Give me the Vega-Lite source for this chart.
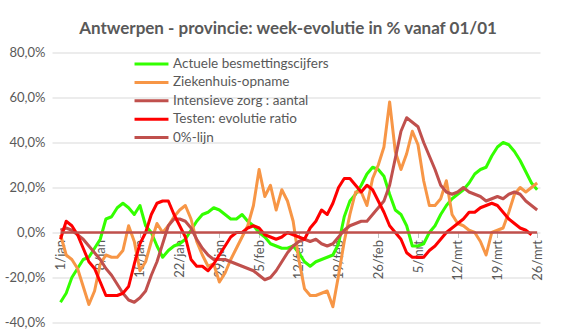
{
  "$schema": "https://vega.github.io/schema/vega-lite/v6.json",
  "width": 488,
  "height": 270,
  "autosize": {"type": "none"},
  "padding": {"left": 52, "top": 52.5, "right": 37, "bottom": 11.5},
  "background": "white",
  "title": {"text": "Antwerpen - provincie: week-evolutie in % vanaf 01/01", "font": "Lato", "fontSize": 17, "fontWeight": "bold", "color": "#595959", "anchor": "middle", "dx": -8, "offset": 9},
  "data": {"values": [
    {"datum": "2021-01-01", "besmet": -31, "opname": -1, "iz": 1, "test": -3, "nul": 0},
    {"datum": "2021-01-02", "besmet": -27, "opname": -10, "iz": 2, "test": 5, "nul": 0},
    {"datum": "2021-01-03", "besmet": -20, "opname": -12, "iz": 1, "test": 3, "nul": 0},
    {"datum": "2021-01-04", "besmet": -16, "opname": -16, "iz": -1, "test": -1, "nul": 0},
    {"datum": "2021-01-05", "besmet": -12, "opname": -24, "iz": -3, "test": -7, "nul": 0},
    {"datum": "2021-01-06", "besmet": -11, "opname": -32, "iz": -6, "test": -13, "nul": 0},
    {"datum": "2021-01-07", "besmet": -7, "opname": -26, "iz": -9, "test": -16, "nul": 0},
    {"datum": "2021-01-08", "besmet": -3, "opname": -14, "iz": -12, "test": -22, "nul": 0},
    {"datum": "2021-01-09", "besmet": 6, "opname": -10, "iz": -16, "test": -28, "nul": 0},
    {"datum": "2021-01-10", "besmet": 7, "opname": -11, "iz": -19, "test": -28, "nul": 0},
    {"datum": "2021-01-11", "besmet": 11, "opname": -11, "iz": -23, "test": -28, "nul": 0},
    {"datum": "2021-01-12", "besmet": 13, "opname": -8, "iz": -27, "test": -27, "nul": 0},
    {"datum": "2021-01-13", "besmet": 11, "opname": 3, "iz": -30, "test": -24, "nul": 0},
    {"datum": "2021-01-14", "besmet": 8, "opname": -4, "iz": -31, "test": -14, "nul": 0},
    {"datum": "2021-01-15", "besmet": 12, "opname": -17, "iz": -29, "test": -5, "nul": 0},
    {"datum": "2021-01-16", "besmet": 3, "opname": -13, "iz": -26, "test": 0, "nul": 0},
    {"datum": "2021-01-17", "besmet": 0, "opname": -4, "iz": -19, "test": 8, "nul": 0},
    {"datum": "2021-01-18", "besmet": -6, "opname": 4, "iz": -13, "test": 13, "nul": 0},
    {"datum": "2021-01-19", "besmet": -11, "opname": 0, "iz": -5, "test": 14, "nul": 0},
    {"datum": "2021-01-20", "besmet": -8, "opname": 3, "iz": 3, "test": 14, "nul": 0},
    {"datum": "2021-01-21", "besmet": -6, "opname": 7, "iz": 6, "test": 8, "nul": 0},
    {"datum": "2021-01-22", "besmet": -5, "opname": 10, "iz": 6, "test": 3, "nul": 0},
    {"datum": "2021-01-23", "besmet": -3, "opname": 12, "iz": 5, "test": -2, "nul": 0},
    {"datum": "2021-01-24", "besmet": 1, "opname": 6, "iz": 2, "test": -12, "nul": 0},
    {"datum": "2021-01-25", "besmet": 5, "opname": -4, "iz": -3, "test": -15, "nul": 0},
    {"datum": "2021-01-26", "besmet": 8, "opname": -10, "iz": -7, "test": -15, "nul": 0},
    {"datum": "2021-01-27", "besmet": 9, "opname": -15, "iz": -10, "test": -17, "nul": 0},
    {"datum": "2021-01-28", "besmet": 11, "opname": -14, "iz": -12, "test": -14, "nul": 0},
    {"datum": "2021-01-29", "besmet": 10, "opname": -22, "iz": -12, "test": -10, "nul": 0},
    {"datum": "2021-01-30", "besmet": 8, "opname": -18, "iz": -12, "test": -6, "nul": 0},
    {"datum": "2021-01-31", "besmet": 6, "opname": -12, "iz": -13, "test": -2, "nul": 0},
    {"datum": "2021-02-01", "besmet": 6, "opname": -7, "iz": -14, "test": 0, "nul": 0},
    {"datum": "2021-02-02", "besmet": 8, "opname": -2, "iz": -15, "test": 0, "nul": 0},
    {"datum": "2021-02-03", "besmet": 5, "opname": 3, "iz": -16, "test": 2, "nul": 0},
    {"datum": "2021-02-04", "besmet": 3, "opname": 12, "iz": -17, "test": 3, "nul": 0},
    {"datum": "2021-02-05", "besmet": 0, "opname": 28, "iz": -19, "test": 2, "nul": 0},
    {"datum": "2021-02-06", "besmet": -2, "opname": 16, "iz": -21, "test": -1, "nul": 0},
    {"datum": "2021-02-07", "besmet": -5, "opname": 21, "iz": -20, "test": -2, "nul": 0},
    {"datum": "2021-02-08", "besmet": -6, "opname": 10, "iz": -17, "test": -3, "nul": 0},
    {"datum": "2021-02-09", "besmet": -7, "opname": 19, "iz": -13, "test": -2, "nul": 0},
    {"datum": "2021-02-10", "besmet": -7, "opname": 14, "iz": -9, "test": 0, "nul": 0},
    {"datum": "2021-02-11", "besmet": -6, "opname": 5, "iz": -6, "test": -1, "nul": 0},
    {"datum": "2021-02-12", "besmet": -9, "opname": -12, "iz": -4, "test": -2, "nul": 0},
    {"datum": "2021-02-13", "besmet": -13, "opname": -25, "iz": -3, "test": -3, "nul": 0},
    {"datum": "2021-02-14", "besmet": -15, "opname": -28, "iz": -4, "test": 2, "nul": 0},
    {"datum": "2021-02-15", "besmet": -13, "opname": -28, "iz": -3, "test": 5, "nul": 0},
    {"datum": "2021-02-16", "besmet": -12, "opname": -27, "iz": -5, "test": 10, "nul": 0},
    {"datum": "2021-02-17", "besmet": -11, "opname": -26, "iz": -6, "test": 8, "nul": 0},
    {"datum": "2021-02-18", "besmet": -10, "opname": -33, "iz": -5, "test": 13, "nul": 0},
    {"datum": "2021-02-19", "besmet": -5, "opname": -19, "iz": -2, "test": 20, "nul": 0},
    {"datum": "2021-02-20", "besmet": 7, "opname": -4, "iz": 1, "test": 24, "nul": 0},
    {"datum": "2021-02-21", "besmet": 14, "opname": 8, "iz": 3, "test": 24, "nul": 0},
    {"datum": "2021-02-22", "besmet": 17, "opname": 18, "iz": 4, "test": 21, "nul": 0},
    {"datum": "2021-02-23", "besmet": 21, "opname": 18, "iz": 5, "test": 18, "nul": 0},
    {"datum": "2021-02-24", "besmet": 26, "opname": 12, "iz": 5, "test": 21, "nul": 0},
    {"datum": "2021-02-25", "besmet": 29, "opname": 24, "iz": 8, "test": 19, "nul": 0},
    {"datum": "2021-02-26", "besmet": 28, "opname": 30, "iz": 11, "test": 14, "nul": 0},
    {"datum": "2021-02-27", "besmet": 25, "opname": 38, "iz": 14, "test": 9, "nul": 0},
    {"datum": "2021-02-28", "besmet": 17, "opname": 58, "iz": 21, "test": 3, "nul": 0},
    {"datum": "2021-03-01", "besmet": 10, "opname": 36, "iz": 33, "test": 0, "nul": 0},
    {"datum": "2021-03-02", "besmet": 8, "opname": 28, "iz": 45, "test": -3, "nul": 0},
    {"datum": "2021-03-03", "besmet": 3, "opname": 35, "iz": 51, "test": -9, "nul": 0},
    {"datum": "2021-03-04", "besmet": -6, "opname": 45, "iz": 49, "test": -11, "nul": 0},
    {"datum": "2021-03-05", "besmet": -6, "opname": 39, "iz": 47, "test": -11, "nul": 0},
    {"datum": "2021-03-06", "besmet": -5, "opname": 23, "iz": 40, "test": -11, "nul": 0},
    {"datum": "2021-03-07", "besmet": 0, "opname": 12, "iz": 34, "test": -8, "nul": 0},
    {"datum": "2021-03-08", "besmet": 3, "opname": 12, "iz": 28, "test": -6, "nul": 0},
    {"datum": "2021-03-09", "besmet": 8, "opname": 15, "iz": 21, "test": -3, "nul": 0},
    {"datum": "2021-03-10", "besmet": 12, "opname": 23, "iz": 18, "test": 0, "nul": 0},
    {"datum": "2021-03-11", "besmet": 15, "opname": 8, "iz": 17, "test": 2, "nul": 0},
    {"datum": "2021-03-12", "besmet": 17, "opname": 4, "iz": 18, "test": 4, "nul": 0},
    {"datum": "2021-03-13", "besmet": 19, "opname": 3, "iz": 20, "test": 6, "nul": 0},
    {"datum": "2021-03-14", "besmet": 22, "opname": 1, "iz": 18, "test": 9, "nul": 0},
    {"datum": "2021-03-15", "besmet": 26, "opname": 0, "iz": 17, "test": 9, "nul": 0},
    {"datum": "2021-03-16", "besmet": 28, "opname": -4, "iz": 16, "test": 11, "nul": 0},
    {"datum": "2021-03-17", "besmet": 29, "opname": -10, "iz": 14, "test": 12, "nul": 0},
    {"datum": "2021-03-18", "besmet": 34, "opname": 0, "iz": 15, "test": 13, "nul": 0},
    {"datum": "2021-03-19", "besmet": 38, "opname": 1, "iz": 16, "test": 12, "nul": 0},
    {"datum": "2021-03-20", "besmet": 40, "opname": 2, "iz": 15, "test": 9, "nul": 0},
    {"datum": "2021-03-21", "besmet": 39, "opname": 9, "iz": 17, "test": 6, "nul": 0},
    {"datum": "2021-03-22", "besmet": 36, "opname": 17, "iz": 18, "test": 4, "nul": 0},
    {"datum": "2021-03-23", "besmet": 32, "opname": 20, "iz": 17, "test": 2, "nul": 0},
    {"datum": "2021-03-24", "besmet": 27, "opname": 18, "iz": 14, "test": 1, "nul": 0},
    {"datum": "2021-03-25", "besmet": 22, "opname": 20, "iz": 12, "test": -1, "nul": 0},
    {"datum": "2021-03-26", "besmet": 19, "opname": 22, "iz": 10, "nul": 0}
  ]},
  "encoding": {
    "x": {
      "field": "datum",
      "type": "temporal",
      "scale": {"type": "utc", "domain": [{"year": 2020, "month": 12, "date": 30, "hours": 12, "utc": true}, {"year": 2021, "month": 3, "date": 26, "hours": 12, "utc": true}]},
      "axis": {
        "title": null,
        "values": [
          {"year": 2021, "month": 1, "date": 1, "utc": true},
          {"year": 2021, "month": 1, "date": 8, "utc": true},
          {"year": 2021, "month": 1, "date": 15, "utc": true},
          {"year": 2021, "month": 1, "date": 22, "utc": true},
          {"year": 2021, "month": 1, "date": 29, "utc": true},
          {"year": 2021, "month": 2, "date": 5, "utc": true},
          {"year": 2021, "month": 2, "date": 12, "utc": true},
          {"year": 2021, "month": 2, "date": 19, "utc": true},
          {"year": 2021, "month": 2, "date": 26, "utc": true},
          {"year": 2021, "month": 3, "date": 5, "utc": true},
          {"year": 2021, "month": 3, "date": 12, "utc": true},
          {"year": 2021, "month": 3, "date": 19, "utc": true},
          {"year": 2021, "month": 3, "date": 26, "utc": true}
        ],
        "labelExpr": "utcdate(datum.value) + '/' + ['jan','feb','mrt','apr'][utcmonth(datum.value)]",
        "labelAngle": -90,
        "offset": -90,
        "domain": false,
        "grid": false,
        "ticks": true,
        "tickSize": 5,
        "tickColor": "#bfbfbf",
        "labelFont": "Lato",
        "labelFontSize": 13,
        "labelColor": "#595959",
        "labelPadding": 2,
        "labelOverlap": false,
        "labelFlush": false,
        "labelBound": false
      }
    }
  },
  "layer": [
    {
      "mark": {"type": "line", "strokeWidth": 3, "strokeJoin": "round"},
      "encoding": {
        "y": {
          "field": "besmet", "type": "quantitative",
          "scale": {"domain": [-40, 80], "nice": false, "zero": false},
          "axis": {
            "title": null,
            "values": [-40, -20, 0, 20, 40, 60, 80],
            "labelExpr": "(datum.value < 0 ? '-' : '') + replace(format(abs(datum.value), '.1f'), '.', ',') + '%'",
            "grid": true, "gridColor": "#d9d9d9", "gridWidth": 1,
            "domain": false, "ticks": false,
            "labelFont": "Lato", "labelFontSize": 13, "labelColor": "#595959", "labelPadding": 7
          }
        },
        "color": {
          "datum": "Actuele besmettingscijfers", "type": "nominal",
          "scale": {
            "domain": ["Actuele besmettingscijfers", "Ziekenhuis-opname", "Intensieve zorg : aantal", "Testen: evolutie ratio", "0%-lijn"],
            "range": ["#33FF00", "#F79646", "#C0504D", "#FF0000", "#C0504D"]
          },
          "legend": {
            "orient": "none", "legendX": 92, "legendY": 4, "title": null,
            "symbolType": "M-3,0H3", "symbolSize": 128, "symbolStrokeWidth": 3,
            "labelOffset": 14, "labelFont": "Lato", "labelFontSize": 13.5, "labelColor": "#595959",
            "labelLimit": 300, "rowPadding": 4.4, "padding": 0
          }
        }
      }
    },
    {
      "mark": {"type": "line", "strokeWidth": 3, "strokeJoin": "round"},
      "encoding": {
        "y": {"field": "opname", "type": "quantitative", "title": null},
        "color": {"datum": "Ziekenhuis-opname", "type": "nominal"}
      }
    },
    {
      "mark": {"type": "line", "strokeWidth": 3, "strokeJoin": "round"},
      "encoding": {
        "y": {"field": "iz", "type": "quantitative", "title": null},
        "color": {"datum": "Intensieve zorg : aantal", "type": "nominal"}
      }
    },
    {
      "mark": {"type": "line", "strokeWidth": 3, "strokeJoin": "round"},
      "encoding": {
        "y": {"field": "test", "type": "quantitative", "title": null},
        "color": {"datum": "Testen: evolutie ratio", "type": "nominal"}
      }
    },
    {
      "mark": {"type": "line", "strokeWidth": 2.5},
      "encoding": {
        "y": {"field": "nul", "type": "quantitative", "title": null},
        "color": {"datum": "0%-lijn", "type": "nominal"}
      }
    }
  ],
  "config": {
    "font": "Lato",
    "view": {"stroke": null}
  }
}
